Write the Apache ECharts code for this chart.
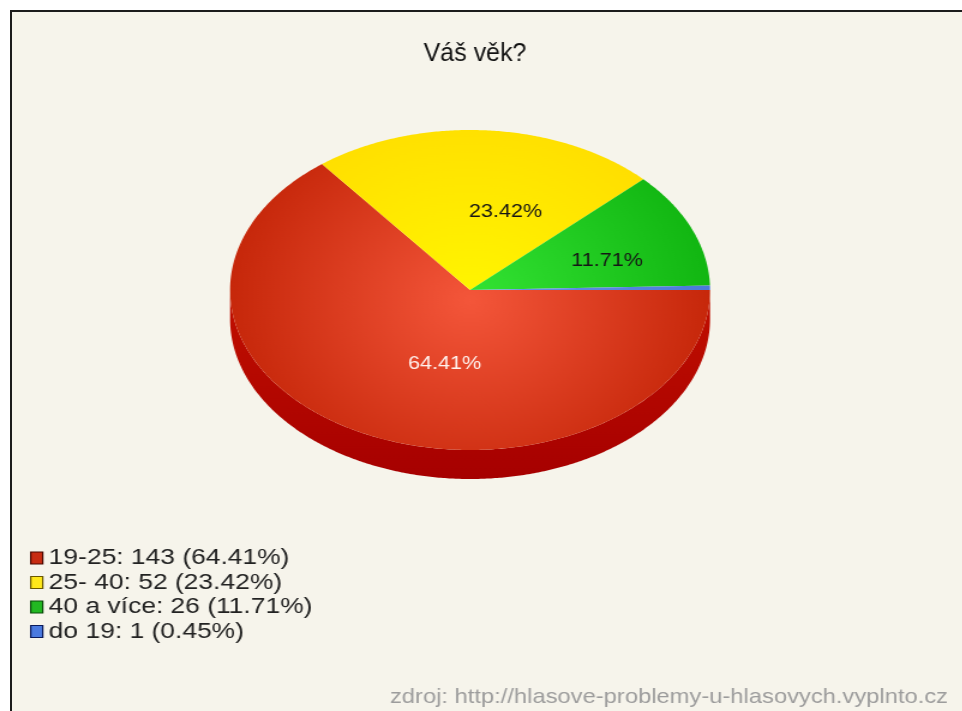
<!DOCTYPE html>
<html>
<head>
<meta charset="utf-8">
<script src="https://cdn.jsdelivr.net/npm/echarts@6/dist/echarts.min.js"></script>
<style>
  html, body { margin: 0; padding: 0; background: #ffffff; width: 962px; height: 711px; overflow: hidden; }
  #frame { position: absolute; left: 10px; top: 10px; right: 0; bottom: 0;
           background: #f6f4eb; border-left: 2px solid #1c1c1c; border-top: 2px solid #1c1c1c; }
  /* the chart is laid out on a narrower canvas and widened horizontally */
  #chart { position: absolute; left: 0; top: 0; width: 802px; height: 711px;
           transform: scaleX(1.2); transform-origin: 0 0; }
</style>
</head>
<body>
<div id="frame"></div>
<div id="chart"></div>
<script>
// survey answers: "Váš věk?"
const chartTitle = 'Váš věk?';
const sourceNote = 'zdroj: http://hlasove-problemy-u-hlasovych.vyplnto.cz';
const categories = ['19-25', '25- 40', '40 a více', 'do 19'];
const counts = [143, 52, 26, 1];

// face colours (light centre -> dark rim), wall colours, legend swatches
const faceLight = ['#f4563a', '#fff600', '#34e434', '#6a98ea'];
const faceDark  = ['#c42508', '#ffdc00', '#10b410', '#4a78d8'];
const wallTop   = ['#c21000', '#d8b800', '#0e9a0e', '#3a62b8'];
const wallBot   = ['#a60000', '#b89a00', '#087808', '#2a4a98'];
const swatch    = ['#c82c12', '#ffe81a', '#22b822', '#4a7ae0'];
const swatchRim = ['#4a0800', '#6a5800', '#0a4a0a', '#0a1a5a'];

const total = counts.reduce((a, b) => a + b, 0);
const percents = counts.map(v => (v / total * 100).toFixed(2));
const legendNames = categories.map((c, i) => `${c}: ${counts[i]} (${percents[i]}%)`);

const FONT = 'Liberation Sans, Arial, sans-serif';
const STRETCH = 1.2;

// pie geometry on the layout canvas
const PIE = { cx: 391.7, cy: 290, rx: 200, ry: 160, depth: 29 };

// slices run clockwise from 3 o'clock
const spans = (() => {
  let acc = 0;
  return counts.map(v => {
    const s = acc / total * 360;
    acc += v;
    return [s, acc / total * 360];
  });
})();

function rimPoint(deg, dy) {
  const t = deg * Math.PI / 180;
  return [PIE.cx + PIE.rx * Math.cos(t), PIE.cy + PIE.ry * Math.sin(t) + (dy || 0)];
}

function arc(a, b, dy) {
  const pts = [];
  const n = Math.max(2, Math.ceil((b - a) / 0.5));
  for (let k = 0; k <= n; k++) pts.push(rimPoint(a + (b - a) * k / n, dy));
  return pts;
}

function renderSlice(i) {
  return function () {
    const [s, e] = spans[i];
    const children = [];

    // visible front wall (lower half of the rim)
    const a = Math.max(s, 0), b = Math.min(e, 180);
    if (b > a) {
      const top = arc(a, b, 0);
      const bot = arc(a, b, PIE.depth).reverse();
      children.push({
        type: 'polygon',
        shape: { points: top.concat(bot) },
        style: {
          fill: new echarts.graphic.LinearGradient(0, PIE.cy, 0, PIE.cy + PIE.ry + PIE.depth,
            [{ offset: 0, color: wallTop[i] }, { offset: 1, color: wallBot[i] }], true)
        }
      });
    }

    // top face
    children.push({
      type: 'polygon',
      shape: { points: [[PIE.cx, PIE.cy]].concat(arc(s, e, 0)) },
      style: {
        fill: new echarts.graphic.RadialGradient(PIE.cx, PIE.cy + 10, PIE.rx * 1.05,
          [{ offset: 0, color: faceLight[i] }, { offset: 1, color: faceDark[i] }], true)
      }
    });

    // percentage label, starting near the middle of the slice
    if (counts[i] / total > 0.02) {
      const mid = (s + e) / 2;
      const t = mid * Math.PI / 180;
      children.push({
        type: 'text',
        x: PIE.cx + PIE.rx * 0.5 * Math.cos(t) - 8,
        y: PIE.cy + PIE.ry * 0.5 * Math.sin(t) + 2,
        style: {
          text: percents[i] + '%',
          fill: i === 0 ? '#fff2ee' : '#151515',
          fontSize: 18,
          fontFamily: FONT,
          align: 'left',
          verticalAlign: 'middle'
        }
      });
    }

    return { type: 'group', children };
  };
}

const chart = echarts.init(document.getElementById('chart'), null, { width: 802, height: 711 });

chart.setOption({
  animation: false,
  backgroundColor: 'transparent',
  title: {
    text: sourceNote,
    right: 12, top: 688, padding: 0,
    textStyle: { fontSize: 19.8, fontWeight: 'normal', color: '#9c9c9c', fontFamily: FONT }
  },
  // heading keeps its natural proportions inside the widened canvas
  graphic: [{
    type: 'text',
    x: 395.8, y: 54,
    scaleX: 1 / STRETCH,
    style: {
      text: chartTitle,
      fontSize: 25,
      fill: '#111111',
      fontFamily: FONT,
      align: 'center',
      verticalAlign: 'middle'
    }
  }],
  legend: {
    orient: 'vertical',
    left: 25, top: 547, padding: 0,
    itemWidth: 10, itemHeight: 12, itemGap: 2.5,
    icon: 'rect',
    selectedMode: false,
    textStyle: { fontSize: 22, color: '#222222', fontFamily: FONT },
    data: legendNames.map((n, i) => ({
      name: n,
      itemStyle: { color: swatch[i], borderColor: swatchRim[i], borderWidth: 1.2 }
    }))
  },
  series: legendNames.map((n, i) => ({
    type: 'custom',
    name: n,
    coordinateSystem: 'none',
    z: 2 + i,
    itemStyle: { color: swatch[i] },
    renderItem: renderSlice(i),
    data: [counts[i]]
  }))
});
</script>
</body>
</html>
